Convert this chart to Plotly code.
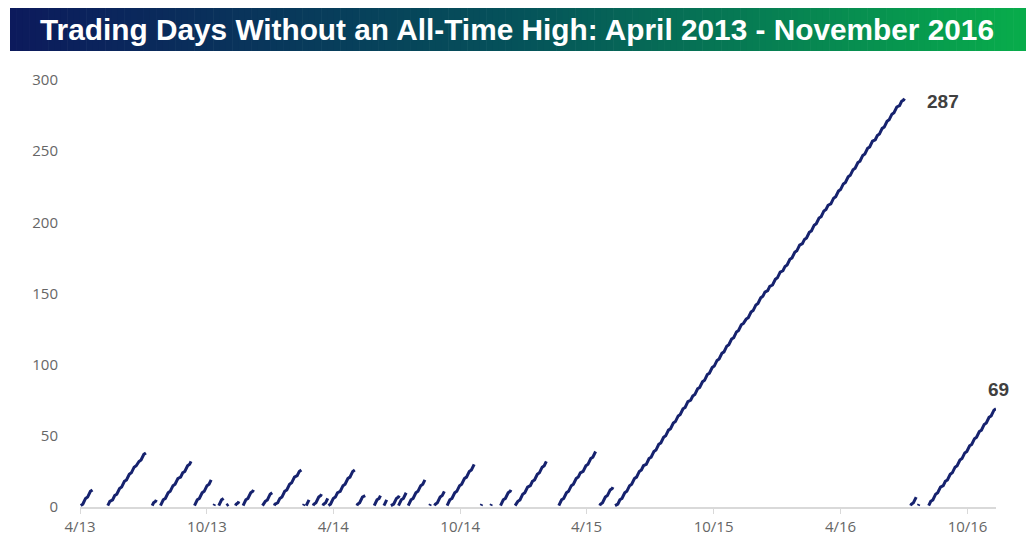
import pandas as pd
import plotly.graph_objects as go

# ---- data ----
# first trading day of each run without an all-time high, and the run's final count
seg_start = [
    "2013-04-12", "2013-05-21", "2013-07-24", "2013-08-05", "2013-09-23", "2013-10-21",
    "2013-10-28", "2013-11-08", "2013-11-21", "2013-12-02", "2013-12-30", "2014-01-16",
    "2014-02-27", "2014-03-03", "2014-03-13", "2014-03-27", "2014-04-04", "2014-05-15",
    "2014-06-09", "2014-06-23", "2014-07-03", "2014-07-14", "2014-07-28", "2014-08-28",
    "2014-09-04", "2014-09-22", "2014-11-03", "2014-11-10", "2014-11-24", "2014-12-08",
    "2014-12-29", "2015-03-02", "2015-04-30", "2015-05-22", "2016-07-21", "2016-08-01",
    "2016-08-16",
]
seg_peak = [
    12, 38, 5, 32, 19, 2,
    6, 2, 4, 12, 10, 26,
    2, 5, 9, 6, 26, 8,
    8, 5, 8, 10, 19, 2,
    11, 30, 1, 2, 2, 12,
    32, 39, 14, 287, 7, 2,
    69,
]
# NYSE market holidays (trading calendar)
nyse_holidays = [
    "2013-01-01", "2013-01-21", "2013-02-18", "2013-03-29", "2013-05-27", "2013-07-04",
    "2013-09-02", "2013-11-28", "2013-12-25",
    "2014-01-01", "2014-01-20", "2014-02-17", "2014-04-18", "2014-05-26", "2014-07-04",
    "2014-09-01", "2014-11-27", "2014-12-25",
    "2015-01-01", "2015-01-19", "2015-02-16", "2015-04-03", "2015-05-25", "2015-07-03",
    "2015-09-07", "2015-11-26", "2015-12-25",
    "2016-01-01", "2016-01-18", "2016-02-15", "2016-03-25", "2016-05-30", "2016-07-04",
    "2016-09-05", "2016-11-24", "2016-12-26",
]
tick_dates = ["2013-04-11", "2013-10-11", "2014-04-11", "2014-10-11",
              "2015-04-11", "2015-10-11", "2016-04-11", "2016-10-11"]
tick_labels = ["4/13", "10/13", "4/14", "10/14", "4/15", "10/15", "4/16", "10/16"]
title_text = "Trading Days Without an All-Time High: April 2013 - November 2016"

# ---- build the daily counter series (gaps on all-time-high days) ----
def seg_days(i):
    return pd.bdate_range(start=seg_start[i], periods=seg_peak[i], freq="C",
                          holidays=nyse_holidays)

xs, ys = [], []
for i, peak in enumerate(seg_peak):
    xs.extend(list(seg_days(i)))
    ys.extend(list(range(1, peak + 1)))
    xs.append(None)
    ys.append(None)

# page body has an 8px margin, so the figure is sized to fit inside the window
OFF = 8
W, H = 1034 - 2 * OFF, 554 - 2 * OFF
ML, MT = 80 - OFF, 80 - OFF
MR = W - (996 - OFF)
MB = H - (507 - OFF)
PW, PH = W - ML - MR, H - MT - MB

def px(x):          # screen pixel -> paper x
    return (x - OFF - ML) / PW

def py(y):          # screen pixel -> paper y
    return (H - MB - (y - OFF)) / PH

fig = go.Figure()
fig.add_trace(go.Scatter(
    x=xs, y=ys, mode="lines", connectgaps=False,
    line=dict(color="#16226e", width=3),
    showlegend=False, hoverinfo="x+y",
))

# ---- title bar: horizontal gradient built from thin strips ----
stops = [(0.0, (12, 26, 92)), (0.5, (5, 82, 90)), (1.0, (8, 173, 75))]
def grad(t):
    for (t0, c0), (t1, c1) in zip(stops[:-1], stops[1:]):
        if t <= t1:
            f = (t - t0) / (t1 - t0)
            return "rgb(%d,%d,%d)" % tuple(round(a + (b - a) * f) for a, b in zip(c0, c1))
    return "rgb(%d,%d,%d)" % stops[-1][1]

bx0, bx1, by0, by1 = 10, 1026, 8, 51
n_strips = 160
shapes = []
for k in range(n_strips):
    x0 = bx0 + (bx1 - bx0) * k / n_strips
    x1 = min(bx0 + (bx1 - bx0) * (k + 1) / n_strips + 0.6, bx1)
    shapes.append(dict(type="rect", xref="paper", yref="paper",
                       x0=px(x0), x1=px(x1), y0=py(by1), y1=py(by0),
                       fillcolor=grad((k + 0.5) / n_strips), line=dict(width=0),
                       layer="below"))

fig.add_annotation(x=px(517), y=py(29.5), xref="paper", yref="paper",
                   xanchor="center", yanchor="middle",
                   text=f"<b>{title_text}</b>", showarrow=False,
                   font=dict(family="Liberation Sans", size=29.8, color="#ffffff"))

peak_idx = seg_peak.index(max(seg_peak))
last_idx = len(seg_peak) - 1
fig.add_annotation(x=seg_days(peak_idx)[-1], y=seg_peak[peak_idx],
                   text=f"<b>{seg_peak[peak_idx]}</b>",
                   showarrow=False, xshift=39, yshift=-3,
                   font=dict(family="Liberation Sans", size=19, color="#404040"))
fig.add_annotation(x=seg_days(last_idx)[-1], y=seg_peak[last_idx],
                   text=f"<b>{seg_peak[last_idx]}</b>",
                   showarrow=False, xshift=2, yshift=19,
                   font=dict(family="Liberation Sans", size=19, color="#404040"))

fig.update_layout(
    width=W, height=H, autosize=False,
    margin=dict(l=ML, r=MR, t=MT, b=MB, pad=0),
    paper_bgcolor="#ffffff", plot_bgcolor="#ffffff",
    shapes=shapes,
    xaxis=dict(
        type="date", range=["2013-04-11", "2016-11-21"],
        tickvals=tick_dates, ticktext=tick_labels,
        showgrid=False, zeroline=False, automargin=False,
        showline=True, linecolor="#d9d9d9", linewidth=1.5,
        ticks="outside", ticklen=5, tickcolor="#d9d9d9",
        tickfont=dict(family="Open Sans", size=15, color="#666666"),
    ),
    yaxis=dict(
        range=[0, 300], tickvals=[0, 50, 100, 150, 200, 250, 300],
        showgrid=False, zeroline=False, showline=False, automargin=False,
        ticks="", ticklabelstandoff=21,
        tickfont=dict(family="Open Sans", size=15, color="#666666"),
    ),
)

fig.write_html("out.html")
